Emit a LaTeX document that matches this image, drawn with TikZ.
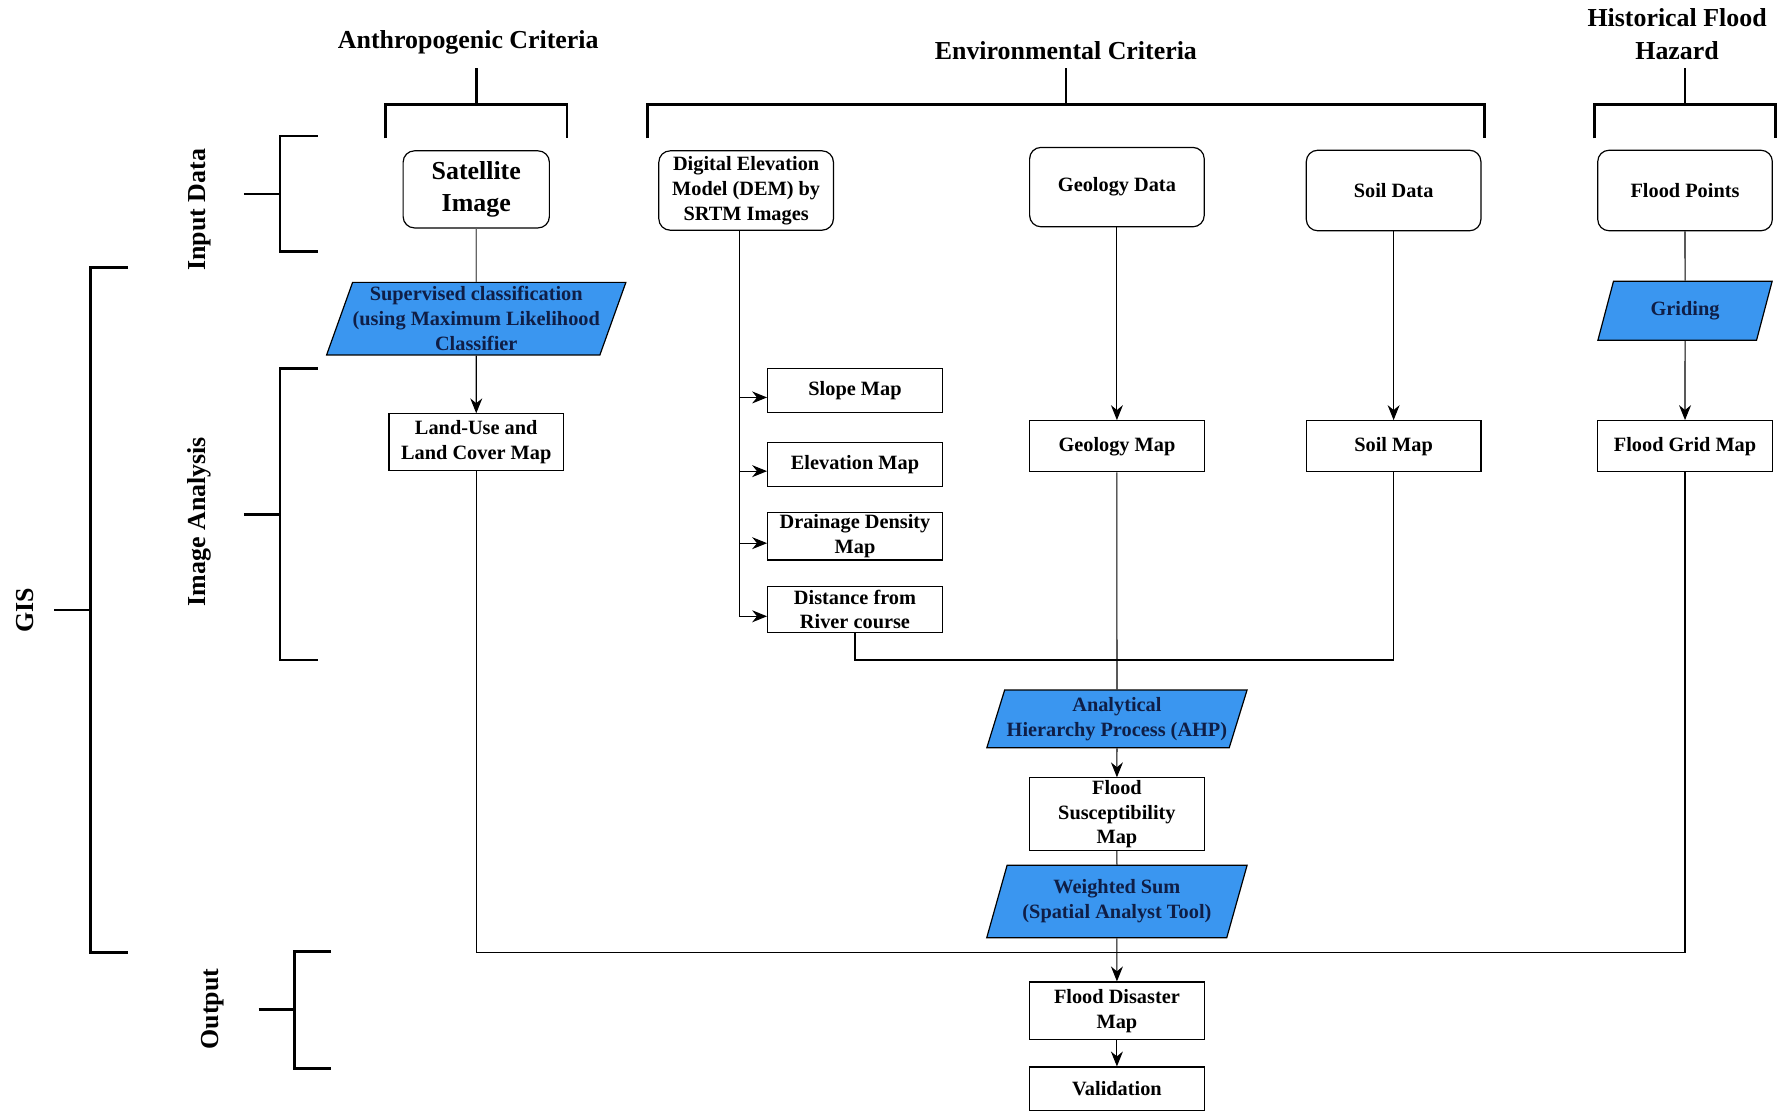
\documentclass[tikz,border=0pt]{standalone}
\usepackage{fontspec}
\setmainfont{Liberation Serif}
\usepackage{tikz}
\usetikzlibrary{positioning}
\usetikzlibrary{shapes.geometric}
\usetikzlibrary{arrows.meta}
\usepackage{xcolor}
\definecolor{procblue}{HTML}{3A96F0}
\definecolor{proctext}{HTML}{0F1E46}

\tikzset{
  datanode/.style={draw, line width=0.6pt, rounded corners=0.2cm, align=center, inner sep=1pt,
    minimum width=3.08cm, minimum height=1.4cm, font=\bfseries\fontsize{10.2}{12.5}\selectfont},
  mapnode/.style={draw, line width=0.6pt, align=center, inner sep=1pt,
    minimum width=3.08cm, font=\bfseries\fontsize{10.2}{12.5}\selectfont},
  procnode/.style={trapezium, trapezium stretches=true, trapezium left angle=68,
    trapezium right angle=112, draw, line width=0.6pt, fill=procblue, text=proctext,
    align=center, inner sep=0pt, font=\bfseries\fontsize{10.2}{12.5}\selectfont},
  headtext/.style={align=center, font=\bfseries\fontsize{13}{16.5}\selectfont},
  sidetext/.style={rotate=90, font=\bfseries\fontsize{13}{16}\selectfont},
  brace/.style={line width=1.4pt},
  link/.style={line width=0.55pt},
  flow/.style={link, -{Stealth[length=7.5pt,width=6pt]}}
}

\begin{document}
\begin{tikzpicture}[x=0.02cm, y=-0.02cm]
    \useasboundingbox (0,0) rectangle (1568,981);

    % Criteria headers
    \node[headtext] (anthro) at (413,37) {Anthropogenic Criteria};
    \node[headtext] (enviro) at (940,45) {Environmental Criteria};
    \node[headtext] (hist) at (1479,30) {Historical Flood\\Hazard};
    \draw[brace] (420,60) -- (420,92);
    \draw[brace] (340,122) -- (340,92) -- (500,92) -- (500,122);
    \draw[brace] (940,60) -- (940,92);
    \draw[brace] (571,122) -- (571,92) -- (1309,92) -- (1309,122);
    \draw[brace] (1486,60) -- (1486,92);
    \draw[brace] (1406,122) -- (1406,92) -- (1566,92) -- (1566,122);

    % Stage brackets
    \node[sidetext] (input) at (176,185) {Input Data};
    \draw[brace] (280,120) -- (247,120) -- (247,222) -- (280,222);
    \draw[brace] (215,171) -- (247,171);

    \node[sidetext] (imgan) at (176,460) {Image Analysis};
    \draw[brace] (280,325) -- (247,325) -- (247,582) -- (280,582);
    \draw[brace] (215,454) -- (247,454);

    \node[sidetext] (gis) at (22,538) {GIS};
    \draw[brace] (113,236) -- (80,236) -- (80,840) -- (113,840);
    \draw[brace] (48,538) -- (80,538);

    \node[sidetext] (output) at (188,890) {Output};
    \draw[brace] (292,839) -- (260,839) -- (260,942) -- (292,942);
    \draw[brace] (228,890) -- (260,890);

    % Input data
    \node[datanode, minimum width=2.58cm, minimum height=1.36cm,
          font=\bfseries\fontsize{13}{16.5}\selectfont] (sat) at (420,167) {Satellite\\Image};
    \node[datanode] (dem) at (658,168) {Digital Elevation\\Model (DEM) by\\SRTM Images};
    \node[datanode] (geodata) at (985,165) {Geology Data};
    \node[datanode, minimum height=1.42cm] (soildata) at (1229,168) {Soil Data};
    \node[datanode, minimum height=1.42cm] (floodpts) at (1486,168) {Flood Points};

    % Image analysis
    \node[procnode, minimum width=5.14cm, minimum height=1.28cm] (superv) at (420,281)
        {Supervised classification\\(using Maximum Likelihood\\Classifier};
    \node[procnode, minimum width=3.08cm, minimum height=1.04cm] (grid) at (1486,274) {Griding};
    \node[mapnode, minimum height=1.0cm] (lulc) at (420,390) {Land-Use and\\Land Cover Map};
    \node[mapnode, minimum height=0.78cm] (slope) at (754,344.5) {Slope Map};
    \node[mapnode, minimum height=0.78cm] (elev) at (754,409.5) {Elevation Map};
    \node[mapnode, minimum height=0.8cm] (drain) at (754,473) {Drainage Density\\Map};
    \node[mapnode, minimum height=0.8cm] (dist) at (754,537.5) {Distance from\\River course};
    \node[mapnode, minimum height=0.9cm] (geomap) at (985,393.5) {Geology Map};
    \node[mapnode, minimum height=0.9cm] (soilmap) at (1229,393.5) {Soil Map};
    \node[mapnode, minimum height=0.9cm] (gridmap) at (1486,393.5) {Flood Grid Map};

    % Weighting and output
    \node[procnode, minimum width=4.6cm, minimum height=1.02cm] (ahp) at (985,634)
        {Analytical\\Hierarchy Process (AHP)};
    \node[mapnode, minimum height=1.28cm] (suscep) at (985,718) {Flood\\Susceptibility\\Map};
    \node[procnode, minimum width=4.6cm, minimum height=1.28cm] (wsum) at (985,795)
        {Weighted Sum\\(Spatial Analyst Tool)};
    \node[mapnode, minimum height=1.02cm] (disaster) at (985,891.5) {Flood Disaster\\Map};
    \node[mapnode, minimum height=0.76cm] (valid) at (985,960) {Validation};

    \coordinate (demtrunk) at (652,544);
    \coordinate (merge) at (985,582);
    \coordinate (join) at (985,840);

    % Connectors
    \draw[link, gray!80!black] (sat) -- (superv);
    \draw[flow] (superv) -- (lulc);
    \draw[link] (dem.south -| demtrunk) -- (demtrunk);
    \foreach \m in {slope,elev,drain,dist}
        \draw[flow] (dem.south -| demtrunk) |- ([yshift=-0.12cm]\m.west);
    \draw[flow] (geodata) -- (geomap);
    \draw[flow] (soildata) -- (soilmap);
    \draw[link] (floodpts) -- (grid);
    \draw[flow] (grid) -- (gridmap);
    \draw[link] (dist.south) |- (merge) -| (soilmap.south);
    \draw[link] (geomap) -- (ahp);
    \draw[flow] (ahp) -- (suscep);
    \draw[link] (suscep) -- (wsum);
    \draw[flow] (wsum) -- (disaster);
    \draw[link] (lulc.south) |- (join) -| (gridmap.south);
    \draw[flow] (disaster) -- (valid);
\end{tikzpicture}
\end{document}
